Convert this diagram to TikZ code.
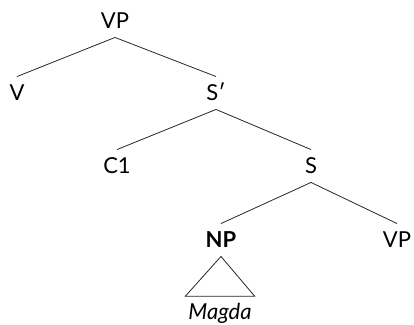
\documentclass[tikz,border=0pt]{standalone}
\usepackage{fontspec}
\setmainfont{Lato}
\begin{document}
\begin{tikzpicture}[
        x = 1pt, y = 1pt,
        every node/.style = {
            align=center,
            inner xsep=0pt,
            inner ysep=9pt,
            text height=14.5pt,
            text depth=0pt,
            font=\fontsize{22}{26}\selectfont
        },
        cat/.style = {},
        head/.style = {font=\fontsize{22}{26}\selectfont\bfseries},
        leaf/.style = {font=\fontsize{22}{26}\selectfont\itshape, anchor=base, inner ysep=8pt, inner xsep=3pt},
        branch/.style = {-, line width=0.8pt, draw=black!85}
    ]
    \useasboundingbox (0,0) rectangle (414,324);

    % Level 0
    \node[cat] (VP) at (115, 303) {VP};

    % Level 1
    \node[cat] (V) at (17, 231) {V};
    \node[cat] (Sbar) at (216, 231) {S′};

    % Level 2
    \node[cat] (C1) at (117, 158) {C1};
    \node[cat] (S) at (311, 158) {S};

    % Level 3
    \node[head] (NP) at (221, 84) {NP};
    \node[cat] (VPlow) at (397, 84) {VP};

    % Leaf under triangle
    \node[leaf] (Magda) at (220, 5) {Magda};

    \draw[branch] (VP.south) -- (V.north);
    \draw[branch] (VP.south) -- (Sbar.north);
    \draw[branch] (Sbar.south) -- (C1.north);
    \draw[branch] (Sbar.south) -- (S.north);
    \draw[branch] (S.south) -- (NP.north);
    \draw[branch] (S.south) -- (VPlow.north);
    % Triangle for the unanalysed NP
    \draw[branch] (NP.south) -- (Magda.north west) -- (Magda.north east) -- cycle;

\end{tikzpicture}
\end{document}
